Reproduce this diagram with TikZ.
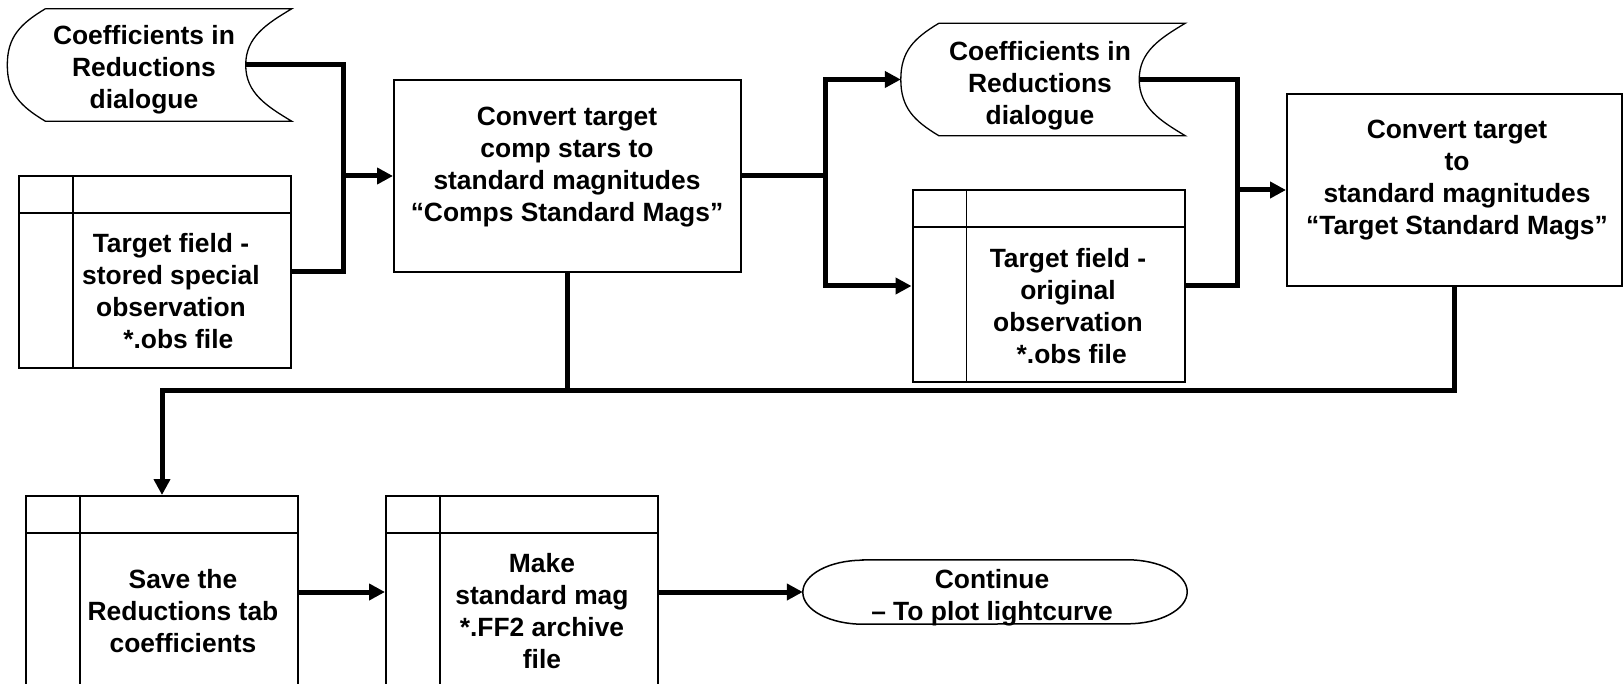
\documentclass[tikz,border=0pt]{standalone}
\usepackage{fontspec}
\setmainfont{Liberation Sans}
\usetikzlibrary{arrows.meta}
\newcommand{\lblfont}{\bfseries\fontsize{26.4}{32}\selectfont}
\tikzset{x=1pt, y=-1pt,
txt/.style={ % Sets the text of every box
align=center,
font=\lblfont,
inner sep=0pt},
procbox/.style={ % Plain process box
draw,
line width=2pt,
minimum width=#1,
minimum height=192},
tablebox/.style={ % Internal storage box with its two dividers
draw,
line width=2pt,
minimum width=272,
minimum height=192,
path picture={
\draw[line width=1.5pt] ([xshift=54pt]path picture bounding box.north west) -- ([xshift=54pt]path picture bounding box.south west);
\draw[line width=1.5pt] ([yshift=-37pt]path picture bounding box.north west) -- ([yshift=-37pt]path picture bounding box.north east);}},
storedata/.style={ % Stored data shape
minimum width=284,
minimum height=112,
append after command={\pgfextra{\let\sd\tikzlastnode
\draw[line width=1.3pt] ([xshift=38pt]\sd.north west) -- (\sd.north east)
.. controls +(-25,15) and +(0,-28) .. ([xshift=-46pt]\sd.east)
.. controls +(0,28) and +(-25,-15) .. (\sd.south east)
-- ([xshift=38pt]\sd.south west)
.. controls +(-25,-15) and +(0,28) .. (\sd.west)
.. controls +(0,-28) and +(-25,15) .. ([xshift=38pt]\sd.north west);}}},
terminal/.style={ % Terminator with elliptic ends
minimum width=384,
minimum height=64,
inner sep=0pt,
append after command={\pgfextra{\let\tn\tikzlastnode
\draw[line width=1.5pt] ([xshift=60pt]\tn.north west) -- ([xshift=-60pt]\tn.north east)
arc[start angle=90, end angle=-90, x radius=60pt, y radius=32pt]
-- ([xshift=60pt]\tn.south west)
arc[start angle=270, end angle=90, x radius=60pt, y radius=32pt] -- cycle;}}},
flow/.style={line width=5pt},
flowarrow/.style={flow, -{Triangle[length=16pt,width=16pt]}}}

\begin{document}
\begin{tikzpicture}
	\useasboundingbox (0,0) rectangle (1624,684);
	% first step
	\node[storedata] (coefA) at (149.5,65) {};
	\node[txt] (coefAtxt) at (144,70) {Coefficients in\\Reductions\\dialogue};
	\node[tablebox] (fieldA) at (155,272) {};
	\node[txt] (fieldAtxt) at (171,291) {Target field -\\stored special\\observation\\~~*.obs file};
	\node[procbox=347] (compconv) at (567.5,176) {};
	\node[txt] (compconvtxt) at (567,167) {Convert target\\comp stars to\\standard magnitudes\\“Comps Standard Mags”};
	% second step
	\node[storedata] (coefB) at (1043,79.5) {};
	\node[txt] (coefBtxt) at (1040,86) {Coefficients in\\Reductions\\dialogue};
	\node[tablebox] (fieldB) at (1048.5,286) {};
	\node[txt] (fieldBtxt) at (1068,306) {Target field -\\original\\observation\\~*.obs file};
	\node[procbox=335] (targconv) at (1454.5,190) {};
	\node[txt] (targconvtxt) at (1457,180) {Convert target\\to\\standard magnitudes\\“Target Standard Mags”};
	% last row
	\node[tablebox] (savecoef) at (162,592) {};
	\node[txt] (savecoeftxt) at (183,611) {Save the\\Reductions tab\\coefficients};
	\node[tablebox] (archive) at (522,592) {};
	\node[txt] (archivetxt) at (542,611) {Make\\standard mag\\*.FF2 archive\\file};
	\node[terminal] (cont) at (995,592) {};
	\node[txt] (conttxt) at (992,598) {Continue\\– To plot lightcurve};
	% connectors
	\coordinate (jA) at (343,176);
	\coordinate (jB) at (825,176);
	\coordinate (jC) at (1237,190);
	\coordinate (bus) at (162,390);
	\draw[flow] ([xshift=-46pt]coefA.east) -| (jA) |- (fieldA.east);
	\draw[flowarrow] (jA) -- (compconv.west);
	\draw[flow] (compconv.east) -- (jB);
	\draw[flowarrow] (jB) |- (coefB.west);
	\draw[flowarrow] (jB) |- (fieldB.west);
	\draw[flow] ([xshift=-46pt]coefB.east) -| (jC) |- (fieldB.east);
	\draw[flowarrow] (jC) -- (targconv.west);
	\draw[flow] (compconv.south) -- (compconv.south |- bus);
	\draw[flowarrow] (targconv.south) |- (bus) -- (savecoef.north);
	\draw[flowarrow] (savecoef.east) -- (archive.west);
	\draw[flowarrow] (archive.east) -- (cont.west);
\end{tikzpicture}
\end{document}
